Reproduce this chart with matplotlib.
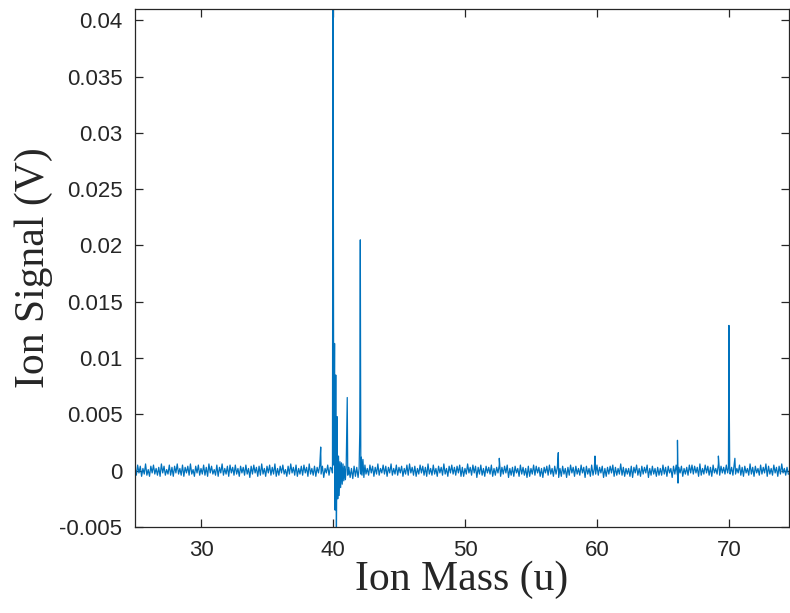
import numpy as np
import matplotlib
matplotlib.use("Agg")
import matplotlib.pyplot as plt
from matplotlib.ticker import FuncFormatter

# ---- data ----
# baseline noise, 0.1 u step starting at 25.0, in units of 1e-4 V
baseline_start = 25.0
baseline_step = 0.1
baseline_noise_low = [   # 25.0 ... 49.8
    3, -4, 5, -2, 4, -5, 2, -3, 6, -4, 1, -5, 4, -2, 5, -3, 2, -4, 3, -5, 6, -2, 4, -4, 1,
    -3, 5, -4, 3, -5, 4, -2, 6, -3, 2, -4, 5, -5, 3, -2, 4, -4, 6, -3, 1, -5, 4, -2, 5, -4,
    2, -3, 5, -4, 3, -5, 6, -2, 4, -3, 1, -4, 5, -5, 3, -2, 6, -4, 2, -3, 4, -5, 5, -2, 3,
    -4, 5, -3, 2, -5, 4, -2, 3, -4, 5, -3, 2, -6, 4, -3, 5, -2, 3, -5, 4, -4, 6, -3, 2, -5,
    4, -2, 5, -4, 3, -3, 6, -5, 2, -4, 4, -2, 5, -3, 1, -5, 4, -3, 6, -2, 3, -4, 5, -5, 2,
    -3, 4, -4, 5, -2, 3, -5, 6, -3, 2, -4, 4, -5, 3, -2, 5, -3, 4, -6, 2, -2, 5, -4, 3, -3,
    4, -5, 2, -3, 5, -2, 4, -4, 6, -3, 3, -5, 4, -2, 5, -4, 2, -3, 6, -5, 3, -2, 4, -4, 5,
    -3, 2, -4, 5, -2, 4, -5, 3, -3, 6, -4, 2, -2, 5, -3, 4, -5, 3, -2, 6, -4, 2, -3, 5, -4,
    3, -2, 4, -5, 2, -3, 5, -4, 6, -2, 3, -4, 4, -5, 2, -3, 5, -2, 4, -4, 3, -5, 6, -3, 2,
    -4, 5, -3, 2, -5, 4, -2, 3, -4, 6, -3, 2, -5, 4, -2, 5, -3, 3, -4, 4, -2, 5, -5, 3,
]
baseline_noise_high = [  # 49.9 ... 74.6
    -5, 2, -3, 6, -2, 3, -4, 5, -2, 4, -6, 3, -3, 5, -4, 2, -5, 4, -2, 3, -3, 5, -5, 2,
    -4, 3, -2, 5, -5, 3, -3, 4, -2, 5, -6, 2, -4, 3, -5, 4, -2, 2, -5, 5, -3, 3, -4, 2, -6,
    4, -5, 2, -3, 5, -4, 4, -2, 3, -5, 2, -6, 3, -2, 4, -4, 5, -3, 2, -5, 4, -3, 3, -6, 2,
    -5, 4, -3, 2, -6, 3, -4, 5, -2, 3, -5, 4, -3, 2, -4, 5, -2, 3, -6, 4, -3, 2, -5, 5, -4,
    2, -3, 5, -4, 3, -2, 4, -6, 2, -5, 3, -3, 4, -2, 5, -5, 3, -4, 2, -3, 6, -4, 3, -5, 2,
    -3, 2, -5, 4, -6, 3, -2, 5, -4, 2, -5, 4, -3, 3, -2, 5, -6, 2, -4, 4, -3, 2, -5, 3, -4,
    2, -4, 5, -3, 3, -5, 4, -2, 2, -6, 4, -3, 5, -4, 3, -2, 4, -5, 2, -3, 3, -4, 5, -2,
    5, -3, 4, -2, 3, -5, 6, -4, 2, -3, 5, -2, 4, -4, 3, -5, 5, -2, 2, -3, 6, -4, 4, -2, 3,
    -3, 5, -2, 4, -5, 3, -4, 6, -3, 2, -2, 5, -4, 3, -5, 4, -2, 2, -4, 6, -3, 3, -5, 4, -2,
    2, -4, 5, -3, 3, -2, 6, -5, 4, -3, 2, -4, 5, -2, 3, -5, 4, -3, 6, -2, 2, -4, 3, -3,
]

# detailed regions around the main peaks (mass in u, signal in V)
cluster_mass = [39.90, 39.96, 40.00, 40.06, 40.12, 40.16, 40.21, 40.26, 40.31, 40.36,
                40.42, 40.47, 40.53, 40.58, 40.64, 40.70, 40.76, 40.82, 40.88, 40.94,
                41.00, 41.08, 41.12, 41.20, 41.30, 41.40, 41.50, 41.60, 41.70, 41.80,
                41.90, 41.98, 42.03, 42.07, 42.11, 42.15, 42.20, 42.27, 42.34, 42.42,
                69.96, 70.00, 70.03, 70.06, 70.09]
cluster_signal = [0.0002, -0.0002, 0.046, 0.0005, 0.0113, -0.0035, 0.0085, -0.006, 0.0048, -0.0025,
                  0.0013, -0.0022, 0.0008, -0.0015, 0.0007, -0.0012, 0.0006, -0.0009, 0.0004, -0.0008,
                  0.0003, 0.0065, -0.0004, 0.0003, -0.0006, 0.0002, -0.0007, 0.0004, -0.0005, 0.0003,
                  -0.0006, 0.0002, 0.0035, 0.0205, -0.0003, 0.0012, -0.0004, 0.0010, -0.0006, 0.0005,
                  0.0002, 0.0129, 0.0051, 0.0000, -0.0003]

# isolated small spikes
spike_mass = [39.07, 52.6, 57.07, 59.85, 66.1, 66.14, 69.2, 70.45]
spike_signal = [0.0021, 0.0011, 0.0016, 0.0013, 0.0027, -0.0011, 0.0013, 0.0011]

cluster_windows = [(39.85, 42.45), (69.93, 70.11)]

x_ticks = [30, 40, 50, 60, 70]
y_ticks = [-0.005, 0, 0.005, 0.01, 0.015, 0.02, 0.025, 0.03, 0.035, 0.04]

# ---- assemble trace ----
baseline_noise = baseline_noise_low + baseline_noise_high
b_mass = baseline_start + baseline_step * np.arange(len(baseline_noise))
b_sig = np.array(baseline_noise) * 1e-4
keep = np.ones(len(b_mass), bool)
for lo, hi in cluster_windows:
    keep &= ~((b_mass >= lo) & (b_mass <= hi))
mass = np.concatenate([b_mass[keep], cluster_mass, spike_mass])
sig = np.concatenate([b_sig[keep], cluster_signal, spike_signal])
order = np.argsort(mass, kind="stable")
mass, sig = mass[order], sig[order]

# ---- plot ----
fig = plt.figure(figsize=(7.9, 6.13), dpi=100)
ax = fig.add_axes([135 / 790, (613 - 527) / 613, 654 / 790, 518 / 613])
ax.plot(mass, sig, color="#0072BD", linewidth=0.9)

ax.set_xlim(25, 74.55)
ax.set_ylim(-0.005, 0.041)
ax.set_xticks(x_ticks)
ax.set_yticks(y_ticks)
ax.yaxis.set_major_formatter(FuncFormatter(lambda v, p: "%g" % round(v, 6)))
ax.xaxis.set_major_formatter(FuncFormatter(lambda v, p: "%g" % v))

for s in ax.spines.values():
    s.set_color("#262626")
    s.set_linewidth(0.9)
ax.tick_params(direction="in", length=6, width=0.9, color="#262626",
               top=True, right=True, labelsize=16, labelcolor="#262626", pad=9)
for lab in ax.get_xticklabels() + ax.get_yticklabels():
    lab.set_family("Liberation Sans")

ax.set_xlabel("Ion Mass (u)", family="Liberation Serif", fontsize=30, color="#262626", labelpad=0)
ax.set_ylabel("Ion Signal (V)", family="Liberation Serif", fontsize=30, color="#262626", labelpad=5)

fig.savefig("out.png", dpi=100)
